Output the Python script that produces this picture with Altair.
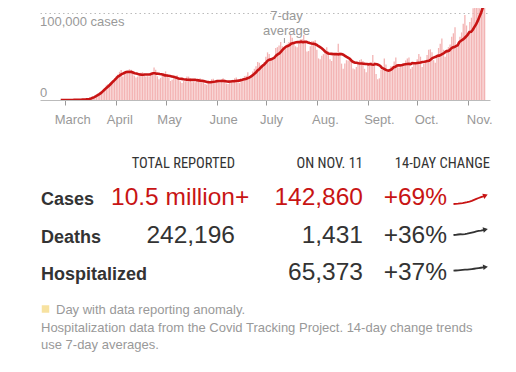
import altair as alt
import pandas as pd

# ---------------- data ----------------
# Daily reported U.S. cases, Mar 1 - Nov 11, 2020 (weeks start on Sunday)
daily_cases = [
    10, 20, 25, 30, 60, 80, 110,                       # Mar 1-7
    120, 190, 300, 420, 470, 700, 780,                 # Mar 8-14
    900, 1300, 1800, 2800, 4500, 5600, 6700,           # Mar 15-21
    8000, 9500, 10500, 12500, 17000, 18500, 19800,     # Mar 22-28
    19000, 21500, 25000, 27000, 29500, 32500, 34500,   # Mar 29-Apr 4
    27000, 31000, 32000, 33500, 35500, 35000, 32000,   # Apr 5-11
    28000, 26000, 27000, 30000, 31500, 32000, 30500,   # Apr 12-18
    27000, 27500, 27000, 30000, 32000, 37500, 35000,   # Apr 19-25
    27500, 24000, 25500, 28000, 31000, 33000, 30000,   # Apr 26-May 2
    26000, 22000, 23500, 25000, 28000, 28500, 26000,   # May 3-9
    21500, 19500, 22000, 21500, 27000, 27000, 25000,   # May 10-16
    20500, 21000, 20500, 23000, 23500, 25000, 22000,   # May 17-23
    20000, 18500, 17500, 19500, 22000, 24000, 24500,   # May 24-30
    21000, 20500, 21000, 20500, 22000, 25000, 24000,   # May 31-Jun 6
    19000, 18500, 19500, 22000, 23500, 25000, 26000,   # Jun 7-13
    21000, 19500, 23500, 24500, 27500, 28000, 32000,   # Jun 14-20
    26000, 28000, 33000, 36000, 39000, 44000, 43000,   # Jun 21-27
    40000, 41000, 44000, 50000, 55000, 53000, 45000,   # Jun 28-Jul 4
    47000, 47500, 60000, 61000, 63000, 67000, 62000,   # Jul 5-11
    59000, 59500, 65000, 67000, 75000, 72000, 66000,   # Jul 12-18
    62000, 61000, 65000, 70000, 70500, 75000, 67000,   # Jul 19-25
    56000, 56500, 62000, 68000, 68000, 69000, 58000,   # Jul 26-Aug 1
    48000, 47000, 51000, 53000, 58000, 61000, 56000,   # Aug 2-8
    47000, 45000, 51000, 54000, 54000, 65000, 55000,   # Aug 9-15
    42000, 36000, 42000, 46000, 45500, 49000, 46000,   # Aug 16-22
    36500, 35500, 38000, 44000, 46000, 47000, 45000,   # Aug 23-29
    36000, 32000, 41000, 40000, 44000, 52000, 44000,   # Aug 30-Sep 5
    30000, 24000, 25000, 35000, 35000, 48000, 41000,   # Sep 6-12
    34500, 33000, 39000, 38500, 44500, 49000, 41000,   # Sep 13-19
    37500, 38000, 40500, 40000, 45500, 48000, 49000,   # Sep 20-26
    36000, 38000, 43000, 41500, 47000, 53000, 50000,   # Sep 27-Oct 3
    38000, 42000, 46000, 52000, 58000, 58500, 55000,   # Oct 4-10
    46000, 43000, 52000, 60000, 65000, 71000, 58000,   # Oct 11-17
    50000, 59000, 61000, 64000, 73000, 77000, 84000,   # Oct 18-24
    61000, 67000, 73000, 78000, 88000, 98000, 86000,   # Oct 25-31
    78000, 90000, 95000, 106000, 122000, 130000, 128000,  # Nov 1-7
    106000, 119000, 136000, 142860,                    # Nov 8-11
]
first_day = "2020-03-01"

month_starts = ["2020-03-01", "2020-04-01", "2020-05-01", "2020-06-01", "2020-07-01",
                "2020-08-01", "2020-09-01", "2020-10-01", "2020-11-01"]
month_labels = ["March", "April", "May", "June", "July", "Aug.", "Sept.", "Oct.", "Nov."]
zero_label = "0"
gridline_value = 100000
gridline_label = "100,000 cases"
annotation_lines = ["7-day", "average"]
annotation_date = "2020-07-12"

headers = ["TOTAL REPORTED", "ON NOV. 11", "14-DAY CHANGE"]
row_labels = ["Cases", "Deaths", "Hospitalized"]
totals = ["10.5 million", "242,196", ""]
total_suffix = ["+", "", ""]
on_day = ["142,860", "1,431", "65,373"]
changes = ["+69%", "+36%", "+37%"]

# 7-day averages over the last 14 days (sparkline trends)
trend_days = list(range(15))
cases_trend = [76900, 77500, 79000, 81200, 83000, 85800, 88600, 92300, 97000,
               103000, 109000, 114500, 119800, 124700, 130000]
deaths_trend = [800, 812, 826, 838, 836, 850, 868, 896, 926, 956, 986, 1010,
                1032, 1060, 1088]
hosp_trend = [45500, 46500, 47400, 48200, 49000, 50000, 50800, 51800, 53000,
              54300, 55800, 57300, 58900, 60600, 62300]

legend_text = "Day with data reporting anomaly."
note_lines = ["Hospitalization data from the Covid Tracking Project. 14-day change trends",
              "use 7-day averages."]

# ---------------- styles ----------------
FONT = "Liberation Sans"
NARROW = "Liberation Sans Narrow, Roboto Condensed, Liberation Sans"
RED = "#c81414"
DARK = "#333333"
GRAY = "#999999"
BAR = "#f3b4b4"

df = pd.DataFrame({
    "date": pd.date_range(first_day, periods=len(daily_cases), freq="D"),
    "cases": daily_cases,
})

x_scale = alt.Scale(
    domain=[alt.DateTime(year=2020, month=2, date=17, hours=16, minutes=34),
            alt.DateTime(year=2020, month=11, date=11, hours=5, minutes=30)],
    nice=False,
)
y_scale = alt.Scale(domain=[0, 106200], nice=False, zero=False)

month_ticks = [alt.DateTime(year=2020, month=m, date=1) for m in range(3, 12)]

bars = alt.Chart(df).mark_bar(color=BAR, width=1.3, clip=True).encode(
    x=alt.X("date:T", scale=x_scale, title=None,
            axis=alt.Axis(values=month_ticks, labels=False, grid=False,
                          domainColor="#bbbbbb", tickColor="#999999", tickSize=5)),
    y=alt.Y("cases:Q", scale=y_scale, title=None,
            axis=alt.Axis(values=[gridline_value], grid=True, gridDash=[1.5, 3],
                          gridColor="#bbbbbb", labels=False, ticks=False,
                          domain=False)),
)

avg_line = alt.Chart(df).transform_window(
    avg="mean(cases)", frame=[-6, 0], sort=[alt.SortField("date")]
).mark_line(color=RED, strokeWidth=2.6, clip=True).encode(
    x=alt.X("date:T", scale=x_scale, axis=None),
    y=alt.Y("avg:Q", scale=y_scale, axis=None),
)

month_text = alt.Chart(pd.DataFrame({
    "date": pd.to_datetime(month_starts), "label": month_labels
})).mark_text(align="left", baseline="alphabetic", dx=-6, fontSize=13,
              font=FONT, color=GRAY).encode(
    x=alt.X("date:T", scale=x_scale, axis=None),
    y=alt.value(115.5),
    text="label:N",
)

zero_text = alt.Chart(pd.DataFrame({"v": [0], "t": [zero_label]})).mark_text(
    align="left", baseline="alphabetic", dy=-3, fontSize=13, font=FONT, color=GRAY
).encode(x=alt.value(0), y=alt.Y("v:Q", scale=y_scale, axis=None), text="t:N")

grid_text = alt.Chart(pd.DataFrame({"v": [gridline_value], "t": [gridline_label]})).mark_text(
    align="left", baseline="top", dy=3, fontSize=13, font=FONT, color=GRAY
).encode(x=alt.value(0), y=alt.Y("v:Q", scale=y_scale, axis=None), text="t:N")

ann_df = pd.DataFrame({"date": [pd.Timestamp(annotation_date)]})
ann_layers = []
for line_text, ypos in zip(annotation_lines, [12, 27]):
    ann_layers.append(alt.Chart(ann_df).mark_text(
        align="center", baseline="alphabetic", fontSize=13, font=FONT,
        color=GRAY, dx=2
    ).encode(
        x=alt.X("date:T", scale=x_scale, axis=None),
        y=alt.value(ypos),
        text=alt.value(line_text),
    ))
ann_rule = alt.Chart(ann_df).mark_rule(color=GRAY, strokeWidth=1).encode(
    x=alt.X("date:T", scale=x_scale, axis=None),
    y=alt.value(30),
    y2=alt.value(35),
)

# ---------------- table ----------------
tbl = pd.DataFrame({"row": row_labels, "total": totals, "suffix": total_suffix,
                    "today": on_day, "change": changes})
row_y = alt.Y("row:N", scale=alt.Scale(type="point", domain=row_labels,
                                       range=[197, 272.3], padding=0), axis=None)
row_color = alt.condition(alt.datum.row == "Cases", alt.value(RED), alt.value(DARK))
tbase = alt.Chart(tbl)

t_labels = tbase.mark_text(align="left", baseline="alphabetic", font=FONT,
                           fontWeight="bold", fontSize=18, color=DARK).encode(
    x=alt.value(1), y=row_y, text="row:N")
t_total = tbase.mark_text(align="right", baseline="alphabetic", font=FONT,
                          fontSize=24.5).encode(
    x=alt.value(195), y=row_y, text="total:N", color=row_color)
t_suffix = tbase.mark_text(align="left", baseline="alphabetic", font=FONT,
                           fontSize=24.5).encode(
    x=alt.value(195), y=row_y, text="suffix:N", color=row_color)
t_today = tbase.mark_text(align="right", baseline="alphabetic", font=FONT,
                          fontSize=24.5).encode(
    x=alt.value(323), y=row_y, text="today:N", color=row_color)
t_change = tbase.mark_text(align="right", baseline="alphabetic", font=FONT,
                           fontSize=24.5).encode(
    x=alt.value(407), y=row_y, text="change:N", color=row_color)

header_layers = []
for h, xpos in zip(headers, [195, 323, 450]):
    header_layers.append(
        alt.Chart(pd.DataFrame({"h": [h]})).mark_text(
            align="right", baseline="alphabetic", font=NARROW, fontSize=14.5,
            color=DARK).encode(x=alt.value(xpos), y=alt.value(160), text="h:N"))

spark_layers = []
for trend, color, (y0, y1), angle in [
    (cases_trend, RED, (196, 187.5), 338),
    (deaths_trend, DARK, (227, 221.5), 348),
    (hosp_trend, DARK, (262.7, 259), 352),
]:
    sdf = pd.DataFrame({"d": trend_days, "v": trend})
    sx = alt.Scale(domain=[0, 14], range=[413.5, 445.5], nice=False, zero=False)
    sy = alt.Scale(domain=[min(trend), max(trend)], range=[y0, y1], nice=False, zero=False)
    enc = dict(x=alt.X("d:Q", scale=sx, axis=None), y=alt.Y("v:Q", scale=sy, axis=None))
    spark_layers.append(alt.Chart(sdf).mark_line(color=color, strokeWidth=1.8).encode(**enc))
    spark_layers.append(
        alt.Chart(sdf).transform_filter(alt.datum.d == 14).mark_point(
            shape="triangle-right", filled=True, size=30, angle=angle,
            color=color, opacity=1).encode(**enc))

# ---------------- footer ----------------
legend_sq = alt.Chart(pd.DataFrame({"t": [legend_text]})).mark_square(
    color="#f7e2a0", size=56, opacity=1).encode(x=alt.value(5.5), y=alt.value(301))
legend_txt = alt.Chart(pd.DataFrame({"t": [legend_text]})).mark_text(
    align="left", baseline="alphabetic", font=FONT, fontSize=13, color=GRAY).encode(
    x=alt.value(16), y=alt.value(306), text="t:N")
note_layers = []
for line_text, ypos in zip(note_lines, [324, 341]):
    note_layers.append(alt.Chart(pd.DataFrame({"t": [line_text]})).mark_text(
        align="left", baseline="alphabetic", font=FONT, fontSize=13,
        color=GRAY).encode(x=alt.value(1), y=alt.value(ypos), text="t:N"))

chart = alt.layer(
    bars, avg_line, month_text, zero_text, grid_text, ann_rule, *ann_layers,
    *header_layers, t_labels, t_total, t_suffix, t_today, t_change,
    *spark_layers, legend_sq, legend_txt, *note_layers,
).resolve_scale(
    x="independent", y="independent"
).properties(
    width=450, height=92,
    autosize=alt.AutoSizeParams(type="none"),
    padding={"left": 32, "top": 0, "right": 18, "bottom": 264},
    background="white",
).configure_view(stroke=None)

chart.save("out.html", embed_options={"renderer": "svg", "actions": False})
